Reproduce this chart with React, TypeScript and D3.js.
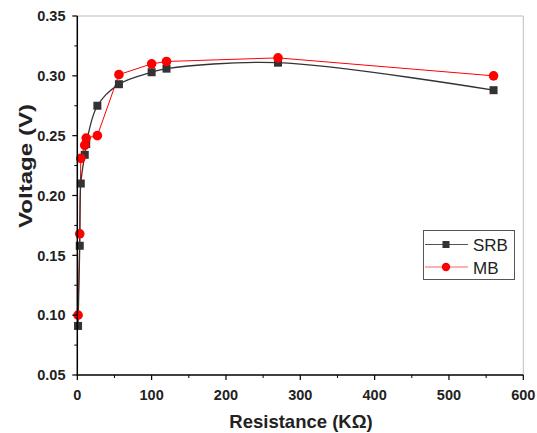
import React from "react";
import * as d3 from "d3";

const srbX = [1, 3.3, 4.7, 10, 12, 27, 56, 100, 120, 270, 560];
const srbY = [0.091, 0.158, 0.210, 0.234, 0.243, 0.275, 0.293, 0.303, 0.306, 0.311, 0.288];
const mbX = [1, 3.3, 4.7, 10, 12, 27, 56, 100, 120, 270, 560];
const mbY = [0.100, 0.168, 0.231, 0.242, 0.248, 0.250, 0.301, 0.310, 0.312, 0.315, 0.300];
const xTicks = [0, 100, 200, 300, 400, 500, 600];
const yTicks = [0.05, 0.1, 0.15, 0.2, 0.25, 0.3, 0.35];
const seriesNames = ["SRB", "MB"];

const W = 537, H = 433;
const L = 77.3, R = 523.3, T = 16, B = 375;
const FONT = "'Liberation Sans', Arial, sans-serif";

export default function App() {
  const x = d3.scaleLinear().domain([0, 600]).range([L, R]);
  const y = d3.scaleLinear().domain([0.05, 0.35]).range([B, T]);
  const srb = srbX.map((v, i) => [v, srbY[i]] as [number, number]);
  const mb = mbX.map((v, i) => [v, mbY[i]] as [number, number]);
  const smooth = d3.line<[number, number]>().x(d => x(d[0])).y(d => y(d[1])).curve(d3.curveCatmullRom.alpha(0.5));
  const straight = d3.line<[number, number]>().x(d => x(d[0])).y(d => y(d[1]));
  const xMinor = d3.range(50, 600, 100);
  const yMinor = d3.range(0.075, 0.35, 0.05);
  const sq = 8, cr = 4.8;
  return (
    <svg width={W} height={H} style={{ position: "absolute", left: 0, top: 0, background: "#fff" }} fontFamily={FONT}>
      <rect x={0} y={0} width={W} height={H} fill="#fff" />
      <line x1={L} x2={R} y1={T} y2={T} stroke="#bdbdbd" strokeWidth={1} />
      <line x1={R} x2={R} y1={T} y2={B} stroke="#bdbdbd" strokeWidth={1} />
      <path d={straight(mb) || ""} fill="none" stroke="#ff0000" strokeWidth={1} />
      <path d={smooth(srb) || ""} fill="none" stroke="#333" strokeWidth={1.3} />
      {srb.map((d, i) => (
        <rect key={"s" + i} x={x(d[0]) - sq / 2} y={y(d[1]) - sq / 2} width={sq} height={sq} fill="#333" />
      ))}
      {mb.map((d, i) => (
        <circle key={"m" + i} cx={x(d[0])} cy={y(d[1])} r={cr} fill="#ff0000" />
      ))}
      <line x1={L} x2={L} y1={T} y2={B + 0.5} stroke="#000" strokeWidth={1.5} />
      <line x1={L - 0.5} x2={R} y1={B} y2={B} stroke="#000" strokeWidth={1.5} />
      {xTicks.map(t => (
        <g key={"xt" + t}>
          <line x1={x(t)} x2={x(t)} y1={B} y2={B + 5} stroke="#000" strokeWidth={1.2} />
          <text x={x(t)} y={400} textAnchor="middle" fontSize={14.5} fontWeight="bold" fill="#222">{t}</text>
        </g>
      ))}
      {xMinor.map(t => (
        <line key={"xm" + t} x1={x(t)} x2={x(t)} y1={B} y2={B + 3} stroke="#000" strokeWidth={1} />
      ))}
      {yTicks.map(t => (
        <g key={"yt" + t}>
          <line x1={L - 5} x2={L} y1={y(t)} y2={y(t)} stroke="#000" strokeWidth={1.2} />
          <text x={65.5} y={y(t) + 5.3} textAnchor="end" fontSize={14.5} fontWeight="bold" fill="#222">{t.toFixed(2)}</text>
        </g>
      ))}
      {yMinor.map(t => (
        <line key={"ym" + t} x1={L - 3} x2={L} y1={y(t)} y2={y(t)} stroke="#000" strokeWidth={1} />
      ))}
      <text x={301} y={428} textAnchor="middle" fontSize={18.5} fontWeight="bold" fill="#222">Resistance (KΩ)</text>
      <text transform={`translate(32,166) rotate(-90)`} textAnchor="middle" fontSize={18.5} fontWeight="bold" fill="#222"
        textLength={124} lengthAdjust="spacingAndGlyphs">Voltage (V)</text>
      <rect x={423.5} y={230.5} width={91} height={49} fill="#fff" stroke="#555" strokeWidth={1} />
      {seriesNames.map((n, i) => {
        const ly = 244.5 + i * 22.5;
        return (
          <g key={n}>
            <line x1={425} x2={468} y1={ly} y2={ly} stroke={i === 0 ? "#555" : "#ff6060"} strokeWidth={1} />
            {i === 0 ? (
              <rect x={446 - 3.5} y={ly - 3.5} width={7} height={7} fill="#333" />
            ) : (
              <circle cx={446} cy={ly} r={4.2} fill="#ff0000" />
            )}
            <text x={473} y={ly + 6.5} fontSize={17} fill="#222">{n}</text>
          </g>
        );
      })}
    </svg>
  );
}
